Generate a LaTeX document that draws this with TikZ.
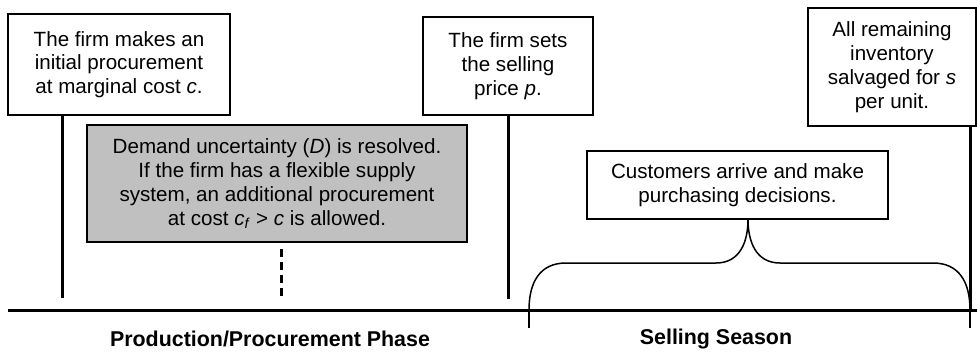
\documentclass[tikz,border=0pt]{standalone}
\usepackage{fontspec}
\setmainfont{Liberation Sans}
\usetikzlibrary{positioning}
\begin{document}
\begin{tikzpicture}[x=1pt, y=-1pt, line width=1.5pt,
  every node/.style={font=\fontsize{20.6}{23.8}\selectfont},
  event/.style={draw, align=center, inner sep=0pt},
  phase/.style={font=\fontsize{21.4}{24}\selectfont\bfseries},
  stem/.style={line width=3pt},
  brace/.style={line width=1.5pt}]
\useasboundingbox (0,0) rectangle (977,351);
% Cajas
\node [event, minimum width=222pt, minimum height=101pt] (buy)    at (119,64.5) {The firm makes an\\initial procurement\\at marginal cost \textit{c}.};
\node [event, minimum width=380pt, minimum height=117pt, fill={rgb,255:red,192;green,192;blue,192}] (demand) at (277,183.5) {Demand uncertainty (\textit{D}) is resolved.\\If the firm has a flexible supply\\system, an additional procurement\\at cost \textit{c}\textsubscript{\textit{f}} > \textit{c} is allowed.};
\node [event, minimum width=170pt, minimum height=98pt]  (price)  at (508,66)   {The firm sets\\the selling\\price \textit{p}.};
\node [event, minimum width=301pt, minimum height=68pt]  (buyers) at (737.5,185) {Customers arrive and make\\purchasing decisions.};
\node [event, minimum width=168pt, minimum height=118pt] (salvage) at (892,67)  {All remaining\\inventory\\salvaged for \textit{s}\\per unit.};
% Fases
\node [phase] (phase1) at (270,339) {Production/Procurement Phase};
\node [phase] (phase2) at (716,339) {Selling Season};
% Eje
\coordinate (ax1) at (8,310);
\coordinate (ax2) at (977,310);
\coordinate (s1) at (62,298);
\coordinate (s2) at (508,299);
\coordinate (s3) at (281,300);
\coordinate (s4) at (970,310);
\coordinate (bl) at (529,310);
\coordinate (br) at (970,310);
\coordinate (tip) at (748,219);
\draw [line width=3pt] (ax1) -- (ax2);
% Lineas
\draw [stem] (buy.south -| s1) -- (s1);
\draw [stem] (price.south) -- (s2);
\draw [stem] (salvage.south -| s4) -- (s4);
\draw [stem, dash pattern=on 8pt off 5pt, shorten <=6pt] (demand.south -| s3) -- (s3);
% Llave
\draw [brace] (bl) .. controls (529,282) and (540,263) .. (566,263) -- (716,263) .. controls (740,263) and (748,242) .. (tip);
\draw [brace] (tip) .. controls (748,242) and (756,263) .. (780,263) -- (933,263) .. controls (959,263) and (970,282) .. (br);
\draw [brace] (bl) -- ++(0,18);
\draw [brace] (br) -- ++(0,18);
\end{tikzpicture}
\end{document}
